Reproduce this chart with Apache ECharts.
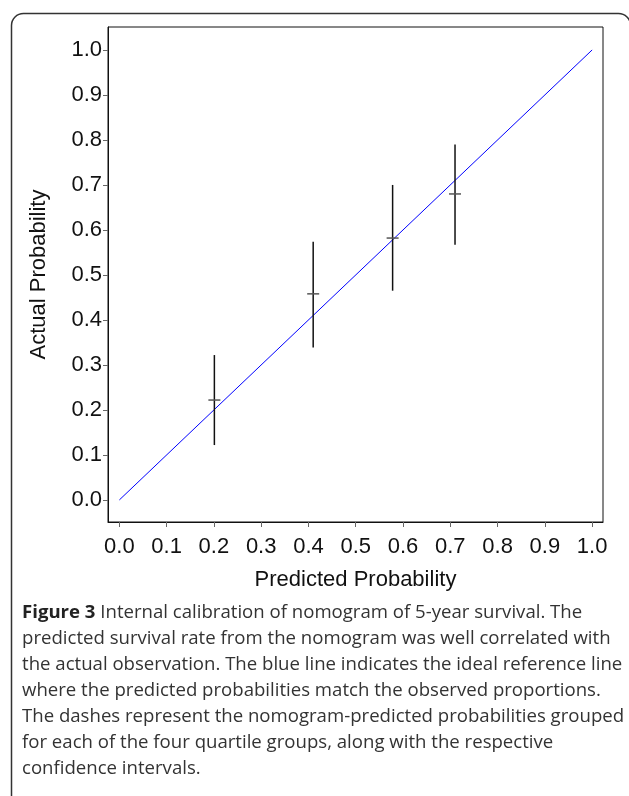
<!DOCTYPE html>
<html>
<head>
<meta charset="utf-8">
<script src="https://cdn.jsdelivr.net/npm/echarts@6/dist/echarts.min.js"></script>
<style>
  html, body { margin: 0; padding: 0; background: #fff; }
  #chart { width: 629px; height: 796px; }
</style>
</head>
<body>
<div id="chart"></div>
<script>
// ---- data ----
const groupPredicted = [0.201, 0.410, 0.578, 0.710];
const groupObserved  = [0.222, 0.458, 0.582, 0.680];
const ciLower        = [0.122, 0.339, 0.465, 0.567];
const ciUpper        = [0.322, 0.574, 0.700, 0.790];
const idealX = [0, 1];
const idealY = [0, 1];
const tickValues = [0, 0.1, 0.2, 0.3, 0.4, 0.5, 0.6, 0.7, 0.8, 0.9, 1.0];
const xTitle = 'Predicted Probability';
const yTitle = 'Actual Probability';
const captionBold = 'Figure 3';
const captionLines = [
  ' Internal calibration of nomogram of 5-year survival. The',
  'predicted survival rate from the nomogram was well correlated with',
  'the actual observation. The blue line indicates the ideal reference line',
  'where the predicted probabilities match the observed proportions.',
  'The dashes represent the nomogram-predicted probabilities grouped',
  'for each of the four quartile groups, along with the respective',
  'confidence intervals.'
];

const chart = echarts.init(document.getElementById('chart'), null, { renderer: 'canvas' });

const errData = groupPredicted.map((x, i) => [x, groupObserved[i], ciLower[i], ciUpper[i]]);
const idealData = idealX.map((x, i) => [x, idealY[i]]);

const axisFont = { fontFamily: "'Liberation Sans', sans-serif", fontSize: 22, color: '#111' };

const captionText = captionLines.map((l, i) => i === 0 ? '{b|' + captionBold + '}{n|' + l + '}' : '{n|' + l + '}').join('\n');

chart.setOption({
  animation: false,
  backgroundColor: '#fff',
  grid: {
    left: 108, right: 26, top: 27, bottom: 274,
    show: true, borderColor: '#111', borderWidth: 1, backgroundColor: 'transparent'
  },
  xAxis: {
    type: 'value', min: -0.024, max: 1.023,
    axisLine: { show: true, onZero: false, lineStyle: { color: '#111', width: 1 } },
    axisTick: { show: true, length: 5, lineStyle: { color: '#666' }, customValues: tickValues },
    axisLabel: Object.assign({ customValues: tickValues, margin: 14, formatter: v => v.toFixed(1) }, axisFont),
    splitLine: { show: false },
    name: xTitle, nameLocation: 'middle', nameGap: 47,
    nameTextStyle: axisFont
  },
  yAxis: {
    type: 'value', min: -0.049, max: 1.051,
    axisLine: { show: true, onZero: false, lineStyle: { color: '#111', width: 1 } },
    axisTick: { show: true, length: 5, lineStyle: { color: '#666' }, customValues: tickValues },
    axisLabel: Object.assign({ customValues: tickValues, margin: 6, formatter: v => v.toFixed(1) }, axisFont),
    splitLine: { show: false },
    name: yTitle, nameLocation: 'middle', nameGap: 58, nameRotate: 90,
    nameTextStyle: axisFont
  },
  series: [
    {
      type: 'line', data: idealData, symbol: 'none',
      lineStyle: { color: '#0000ff', width: 1 }, z: 2
    },
    {
      type: 'custom', data: errData, z: 3,
      renderItem: function (params, api) {
        const x = api.value(0);
        const top = api.coord([x, api.value(3)]);
        const bot = api.coord([x, api.value(2)]);
        const mid = api.coord([x, api.value(1)]);
        return {
          type: 'group',
          children: [
            { type: 'line', shape: { x1: top[0], y1: top[1], x2: bot[0], y2: bot[1] },
              style: { stroke: '#111', lineWidth: 1.5 } },
            { type: 'line', shape: { x1: mid[0] - 6, y1: mid[1], x2: mid[0] + 6, y2: mid[1] },
              style: { stroke: '#555', lineWidth: 1.5 } }
          ]
        };
      }
    }
  ],
  graphic: [
    {
      type: 'rect', left: 9, top: 11, silent: true, z: -1,
      shape: { width: 619, height: 820, r: 12 },
      style: { fill: 'none', stroke: '#333', lineWidth: 1.5 }
    },
    {
      type: 'text', left: 22, top: 603, silent: true,
      style: {
        text: captionText,
        rich: {
          b: { fontFamily: "'Open Sans', sans-serif", fontWeight: 'bold', fontSize: 18.6, lineHeight: 26, fill: '#222' },
          n: { fontFamily: "'Open Sans', sans-serif", fontSize: 18.6, lineHeight: 26, fill: '#333' }
        }
      }
    }
  ]
});
</script>
</body>
</html>
